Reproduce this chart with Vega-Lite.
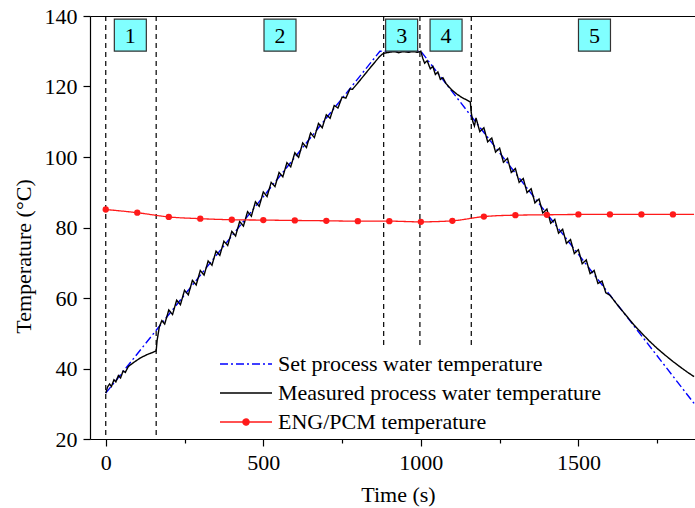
{
  "$schema": "https://vega.github.io/schema/vega-lite/v6.json",
  "width": 605,
  "height": 423,
  "autosize": {"type": "none"},
  "padding": {"left": 90, "top": 16, "right": 0, "bottom": 69},
  "background": "white",
  "config": {
    "view": {"stroke": null},
    "font": "Liberation Serif",
    "axis": {
      "grid": false,
      "domainColor": "black",
      "domainWidth": 1.2,
      "tickColor": "black",
      "tickWidth": 1.2,
      "labelColor": "black",
      "titleColor": "black",
      "labelFont": "Liberation Serif",
      "titleFont": "Liberation Serif",
      "labelFontSize": 22,
      "titleFontSize": 22,
      "titleFontWeight": "normal",
      "labelFlush": false,
      "labelOverlap": false
    }
  },
  "datasets": {
    "curves": [
      {"s": "set", "t": 0, "v": 33},
      {"s": "set", "t": 870, "v": 130},
      {"s": "set", "t": 1000, "v": 130},
      {"s": "set", "t": 1867, "v": 30.1},
      {"s": "meas", "t": 0, "v": 33.0},
      {"s": "meas", "t": 6, "v": 34.8},
      {"s": "meas", "t": 12, "v": 35.6},
      {"s": "meas", "t": 18, "v": 34.9},
      {"s": "meas", "t": 26, "v": 36.8},
      {"s": "meas", "t": 32, "v": 36.2},
      {"s": "meas", "t": 40, "v": 38.0},
      {"s": "meas", "t": 47, "v": 37.3},
      {"s": "meas", "t": 55, "v": 39.3},
      {"s": "meas", "t": 62, "v": 38.9},
      {"s": "meas", "t": 72, "v": 40.6},
      {"s": "meas", "t": 90, "v": 41.8},
      {"s": "meas", "t": 110, "v": 43.0},
      {"s": "meas", "t": 130, "v": 43.9},
      {"s": "meas", "t": 150, "v": 44.6},
      {"s": "meas", "t": 160, "v": 45.0},
      {"s": "meas", "t": 163, "v": 48.0},
      {"s": "meas", "t": 170, "v": 51.8},
      {"s": "meas", "t": 178, "v": 53.6},
      {"s": "meas", "t": 187, "v": 52.6},
      {"s": "meas", "t": 200, "v": 56.6},
      {"s": "meas", "t": 212, "v": 55.3},
      {"s": "meas", "t": 225, "v": 59.4},
      {"s": "meas", "t": 237, "v": 58.1},
      {"s": "meas", "t": 250, "v": 62.2},
      {"s": "meas", "t": 262, "v": 60.9},
      {"s": "meas", "t": 275, "v": 65.0},
      {"s": "meas", "t": 287, "v": 63.7},
      {"s": "meas", "t": 300, "v": 67.8},
      {"s": "meas", "t": 312, "v": 66.5},
      {"s": "meas", "t": 325, "v": 70.5},
      {"s": "meas", "t": 337, "v": 69.3},
      {"s": "meas", "t": 350, "v": 73.3},
      {"s": "meas", "t": 362, "v": 72.1},
      {"s": "meas", "t": 375, "v": 76.1},
      {"s": "meas", "t": 387, "v": 74.9},
      {"s": "meas", "t": 400, "v": 78.9},
      {"s": "meas", "t": 412, "v": 77.6},
      {"s": "meas", "t": 425, "v": 81.7},
      {"s": "meas", "t": 437, "v": 80.4},
      {"s": "meas", "t": 450, "v": 84.5},
      {"s": "meas", "t": 462, "v": 83.2},
      {"s": "meas", "t": 475, "v": 87.3},
      {"s": "meas", "t": 487, "v": 86.0},
      {"s": "meas", "t": 500, "v": 90.1},
      {"s": "meas", "t": 512, "v": 88.8},
      {"s": "meas", "t": 525, "v": 92.8},
      {"s": "meas", "t": 537, "v": 91.6},
      {"s": "meas", "t": 550, "v": 95.6},
      {"s": "meas", "t": 562, "v": 94.4},
      {"s": "meas", "t": 575, "v": 98.4},
      {"s": "meas", "t": 587, "v": 97.2},
      {"s": "meas", "t": 600, "v": 101.2},
      {"s": "meas", "t": 612, "v": 99.9},
      {"s": "meas", "t": 625, "v": 104.0},
      {"s": "meas", "t": 637, "v": 102.7},
      {"s": "meas", "t": 650, "v": 106.8},
      {"s": "meas", "t": 662, "v": 105.5},
      {"s": "meas", "t": 675, "v": 109.5},
      {"s": "meas", "t": 687, "v": 108.3},
      {"s": "meas", "t": 700, "v": 112.0},
      {"s": "meas", "t": 712, "v": 111.0},
      {"s": "meas", "t": 725, "v": 114.6},
      {"s": "meas", "t": 737, "v": 113.9},
      {"s": "meas", "t": 750, "v": 117.0},
      {"s": "meas", "t": 762, "v": 116.7},
      {"s": "meas", "t": 775, "v": 119.3},
      {"s": "meas", "t": 783, "v": 119.2},
      {"s": "meas", "t": 800, "v": 121.0},
      {"s": "meas", "t": 820, "v": 123.2},
      {"s": "meas", "t": 840, "v": 125.4},
      {"s": "meas", "t": 855, "v": 127.0},
      {"s": "meas", "t": 868, "v": 128.4},
      {"s": "meas", "t": 878, "v": 129.2},
      {"s": "meas", "t": 886, "v": 129.5},
      {"s": "meas", "t": 900, "v": 129.7},
      {"s": "meas", "t": 915, "v": 129.9},
      {"s": "meas", "t": 930, "v": 129.6},
      {"s": "meas", "t": 945, "v": 129.9},
      {"s": "meas", "t": 960, "v": 129.7},
      {"s": "meas", "t": 975, "v": 129.9},
      {"s": "meas", "t": 990, "v": 129.7},
      {"s": "meas", "t": 1000, "v": 130.0},
      {"s": "meas", "t": 1006, "v": 128.0},
      {"s": "meas", "t": 1012, "v": 126.6},
      {"s": "meas", "t": 1020, "v": 127.3},
      {"s": "meas", "t": 1030, "v": 125.0},
      {"s": "meas", "t": 1038, "v": 125.7},
      {"s": "meas", "t": 1046, "v": 123.4},
      {"s": "meas", "t": 1054, "v": 124.1},
      {"s": "meas", "t": 1062, "v": 122.0},
      {"s": "meas", "t": 1070, "v": 122.5},
      {"s": "meas", "t": 1080, "v": 120.8},
      {"s": "meas", "t": 1090, "v": 119.8},
      {"s": "meas", "t": 1100, "v": 118.9},
      {"s": "meas", "t": 1115, "v": 117.8},
      {"s": "meas", "t": 1130, "v": 116.9},
      {"s": "meas", "t": 1145, "v": 116.2},
      {"s": "meas", "t": 1157, "v": 115.6},
      {"s": "meas", "t": 1160, "v": 112.5},
      {"s": "meas", "t": 1165, "v": 110.0},
      {"s": "meas", "t": 1170, "v": 108.8},
      {"s": "meas", "t": 1175, "v": 111.1},
      {"s": "meas", "t": 1187, "v": 107.2},
      {"s": "meas", "t": 1200, "v": 108.3},
      {"s": "meas", "t": 1212, "v": 104.3},
      {"s": "meas", "t": 1225, "v": 105.4},
      {"s": "meas", "t": 1237, "v": 101.4},
      {"s": "meas", "t": 1250, "v": 102.5},
      {"s": "meas", "t": 1262, "v": 98.5},
      {"s": "meas", "t": 1275, "v": 99.6},
      {"s": "meas", "t": 1287, "v": 95.6},
      {"s": "meas", "t": 1300, "v": 96.7},
      {"s": "meas", "t": 1312, "v": 92.8},
      {"s": "meas", "t": 1325, "v": 93.9},
      {"s": "meas", "t": 1337, "v": 89.9},
      {"s": "meas", "t": 1350, "v": 91.0},
      {"s": "meas", "t": 1362, "v": 87.0},
      {"s": "meas", "t": 1375, "v": 88.1},
      {"s": "meas", "t": 1387, "v": 84.1},
      {"s": "meas", "t": 1400, "v": 85.2},
      {"s": "meas", "t": 1412, "v": 81.2},
      {"s": "meas", "t": 1425, "v": 82.3},
      {"s": "meas", "t": 1437, "v": 78.4},
      {"s": "meas", "t": 1450, "v": 79.5},
      {"s": "meas", "t": 1462, "v": 75.5},
      {"s": "meas", "t": 1475, "v": 76.6},
      {"s": "meas", "t": 1487, "v": 72.6},
      {"s": "meas", "t": 1500, "v": 73.7},
      {"s": "meas", "t": 1512, "v": 69.7},
      {"s": "meas", "t": 1525, "v": 70.8},
      {"s": "meas", "t": 1537, "v": 66.9},
      {"s": "meas", "t": 1550, "v": 67.8},
      {"s": "meas", "t": 1562, "v": 64.1},
      {"s": "meas", "t": 1575, "v": 64.8},
      {"s": "meas", "t": 1587, "v": 61.5},
      {"s": "meas", "t": 1600, "v": 60.8},
      {"s": "meas", "t": 1625, "v": 57.9},
      {"s": "meas", "t": 1650, "v": 55.2},
      {"s": "meas", "t": 1675, "v": 52.5},
      {"s": "meas", "t": 1700, "v": 50.1},
      {"s": "meas", "t": 1725, "v": 47.8},
      {"s": "meas", "t": 1750, "v": 45.7},
      {"s": "meas", "t": 1775, "v": 43.8},
      {"s": "meas", "t": 1800, "v": 42.0},
      {"s": "meas", "t": 1825, "v": 40.3},
      {"s": "meas", "t": 1850, "v": 38.7},
      {"s": "meas", "t": 1867, "v": 37.7},
      {"s": "eng", "t": 0, "v": 85.1},
      {"s": "eng", "t": 100, "v": 84.2},
      {"s": "eng", "t": 200, "v": 83.0},
      {"s": "eng", "t": 300, "v": 82.5},
      {"s": "eng", "t": 400, "v": 82.2},
      {"s": "eng", "t": 500, "v": 82.1},
      {"s": "eng", "t": 600, "v": 82.0},
      {"s": "eng", "t": 700, "v": 81.9},
      {"s": "eng", "t": 800, "v": 81.8},
      {"s": "eng", "t": 900, "v": 81.8},
      {"s": "eng", "t": 1000, "v": 81.6},
      {"s": "eng", "t": 1100, "v": 81.9},
      {"s": "eng", "t": 1200, "v": 83.1},
      {"s": "eng", "t": 1300, "v": 83.5},
      {"s": "eng", "t": 1400, "v": 83.6},
      {"s": "eng", "t": 1500, "v": 83.7},
      {"s": "eng", "t": 1600, "v": 83.7},
      {"s": "eng", "t": 1700, "v": 83.7},
      {"s": "eng", "t": 1800, "v": 83.7},
      {"s": "eng", "t": 1867, "v": 83.7}
    ],
    "phases": [
      {"label": "1", "t": 78},
      {"label": "2", "t": 553},
      {"label": "3", "t": 939},
      {"label": "4", "t": 1080},
      {"label": "5", "t": 1551}
    ],
    "bounds": [
      {"t": 0, "hi": 140, "lo": 20},
      {"t": 160, "hi": 140, "lo": 20},
      {"t": 882, "hi": 140, "lo": 46},
      {"t": 997, "hi": 140, "lo": 46},
      {"t": 1160, "hi": 140, "lo": 46}
    ]
  },
  "layer": [
    {
      "data": {"name": "bounds"},
      "mark": {"type": "rule", "color": "black", "strokeWidth": 1.2, "strokeDash": [5, 4]},
      "encoding": {
        "x": {
          "field": "t", "type": "quantitative",
          "scale": {"domain": [-50, 1870], "nice": false, "zero": false},
          "axis": {"orient": "top", "labels": false, "ticks": false, "title": null, "domain": true}
        },
        "y": {"field": "hi", "type": "quantitative"},
        "y2": {"field": "lo"}
      }
    },
    {
      "data": {"name": "curves"},
      "transform": [{"filter": "datum.s !== 'eng'"}],
      "mark": {"type": "line", "strokeWidth": 1.4},
      "encoding": {
        "x": {
          "field": "t", "type": "quantitative",
          "scale": {"domain": [-50, 1870], "nice": false, "zero": false},
          "axis": {
            "orient": "bottom",
            "values": [0, 250, 500, 750, 1000, 1250, 1500, 1750],
            "format": "d",
            "labelExpr": "datum.value % 500 == 0 ? datum.label : ''",
            "tickSize": {"condition": {"test": "datum.value % 500 == 0", "value": 7}, "value": 4},
            "labelPadding": 6,
            "title": "Time (s)",
            "titleX": 308,
            "titleY": 62,
            "titleBaseline": "alphabetic"
          }
        },
        "y": {
          "field": "v", "type": "quantitative",
          "scale": {"domain": [20, 140], "nice": false, "zero": false},
          "axis": {
            "orient": "left",
            "zindex": 1,
            "values": [20, 30, 40, 50, 60, 70, 80, 90, 100, 110, 120, 130, 140],
            "format": "d",
            "labelExpr": "datum.value % 20 == 0 ? datum.label : ''",
            "tickSize": {"condition": {"test": "datum.value % 20 == 0", "value": 7}, "value": 4},
            "labelPadding": 6,
            "title": "Temperature (°C)",
            "titleX": -60,
            "titleY": 240,
            "titleAngle": 270,
            "titleAlign": "center",
            "titleBaseline": "alphabetic"
          }
        },
        "color": {
          "field": "s", "type": "nominal",
          "scale": {"domain": ["set", "meas", "eng"], "range": ["#0000ff", "#000000", "#ff1a1a"]},
          "legend": {
            "orient": "none",
            "legendX": 145,
            "legendY": 337,
            "title": null,
            "padding": 0,
            "symbolSize": 400,
            "symbolStrokeWidth": 1.5,
            "labelFont": "Liberation Serif",
            "labelFontSize": 22,
            "labelColor": "black",
            "labelOffset": 21,
            "labelLimit": 0,
            "rowPadding": 7,
            "labelExpr": "datum.value == 'set' ? 'Set process water temperature' : datum.value == 'meas' ? 'Measured process water temperature' : 'ENG/PCM temperature'",
            "encode": {
              "symbols": {
                "update": {
                  "shape": [
                    {"test": "datum.value == 'eng'", "value": "M-2.6,0H2.6M0.3,0A0.3,0.3,0,1,1,-0.3,0A0.3,0.3,0,1,1,0.3,0Z"},
                    {"value": "M-2.6,0H2.6"}
                  ],
                  "fill": [
                    {"test": "datum.value == 'eng'", "value": "#ff1a1a"},
                    {"value": "transparent"}
                  ]
                }
              }
            }
          }
        },
        "strokeDash": {
          "field": "s", "type": "nominal",
          "scale": {"domain": ["set", "meas", "eng"], "range": [[8, 3, 2, 3], [1, 0], [1, 0]]}
        }
      }
    },
    {
      "data": {"name": "curves"},
      "transform": [{"filter": "datum.s === 'eng'"}],
      "mark": {"type": "line", "strokeWidth": 1.3, "interpolate": "monotone"},
      "encoding": {
        "x": {"field": "t", "type": "quantitative", "axis": null},
        "y": {"field": "v", "type": "quantitative"},
        "color": {"field": "s", "type": "nominal"},
        "strokeDash": {"field": "s", "type": "nominal"}
      }
    },
    {
      "data": {"name": "curves"},
      "transform": [{"filter": "datum.s === 'eng' && datum.t % 100 == 0"}],
      "mark": {"type": "point", "shape": "circle", "filled": true, "size": 40, "color": "#ff1a1a", "opacity": 1},
      "encoding": {
        "x": {"field": "t", "type": "quantitative", "axis": null},
        "y": {"field": "v", "type": "quantitative"}
      }
    },
    {
      "data": {"name": "phases"},
      "mark": {"type": "point", "shape": "square", "size": 1024, "filled": true, "fill": "#80ffff", "stroke": "#333333", "strokeWidth": 1.2, "opacity": 1},
      "encoding": {
        "x": {"field": "t", "type": "quantitative", "axis": null},
        "y": {"datum": 134.55, "type": "quantitative"}
      }
    },
    {
      "data": {"name": "phases"},
      "mark": {"type": "text", "font": "Liberation Serif", "fontSize": 22, "color": "black", "align": "center", "baseline": "alphabetic", "dy": 8},
      "encoding": {
        "x": {"field": "t", "type": "quantitative", "axis": null},
        "y": {"datum": 134.55, "type": "quantitative"},
        "text": {"field": "label"}
      }
    }
  ]
}
